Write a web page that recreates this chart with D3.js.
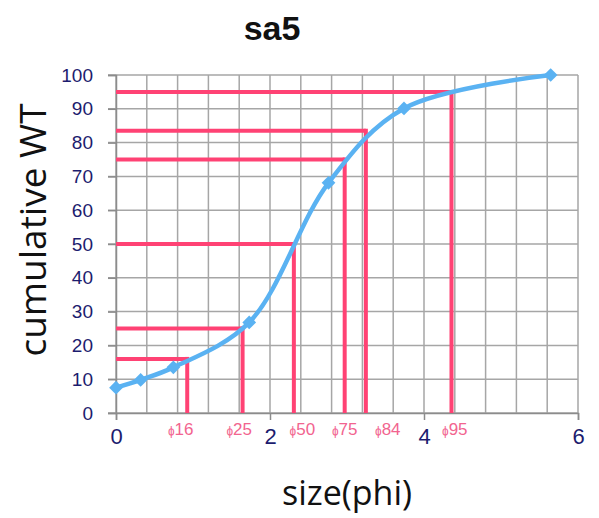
<!DOCTYPE html>
<html><head><meta charset="utf-8">
<script src="https://cdn.jsdelivr.net/npm/d3@7"></script>
<style>body{margin:0;background:#fff}</style>
</head><body>
<svg id="c" width="599" height="518"></svg>
<script>
// data
const sizePhi = [0, 0.32, 0.745, 1.73, 2.76, 3.74, 5.645];
const cumWT   = [7.5, 9.8, 13.5, 26.8, 68.1, 90.1, 100];
const phiNames  = ["16", "25", "50", "75", "84", "95"];
const phiX      = [0.925, 1.644, 2.31, 2.97, 3.245, 4.357];
const phiY      = [16, 25, 50, 75, 83.5, 95];
const phiLabelAt = [0.84, 1.6, 2.42, 2.97, 3.53, 4.4];
const xTicks = [0, 2, 4, 6];
const yTicks = [0, 10, 20, 30, 40, 50, 60, 70, 80, 90, 100];

const svg = d3.select("#c");
const L = 116, R = 578, T = 75, B = 413;
const x = d3.scaleLinear().domain([0, 6]).range([L, R]);
const y = d3.scaleLinear().domain([0, 100]).range([B, T]);

const gridC = "#a6a6a6";
// vertical grid (every 0.4)
const vg = d3.range(0, 6.0001, 0.4);
svg.append("g").selectAll("line").data(vg).join("line")
  .attr("x1", d => x(d)).attr("x2", d => x(d)).attr("y1", T).attr("y2", B)
  .attr("stroke", gridC).attr("stroke-width", 1.5);
// horizontal grid
svg.append("g").selectAll("line").data(yTicks).join("line")
  .attr("x1", L - 8).attr("x2", R).attr("y1", d => y(d)).attr("y2", d => y(d))
  .attr("stroke", gridC).attr("stroke-width", 1.5);

// axes
const xAxis = svg.append("g").attr("transform", `translate(0,${B})`)
  .call(d3.axisBottom(x).tickValues(xTicks).tickSize(7).tickPadding(8).tickFormat(d3.format("d")));
const yAxis = svg.append("g").attr("transform", `translate(${L},0)`)
  .call(d3.axisLeft(y).tickValues(yTicks).tickSize(8).tickPadding(15));
[xAxis, yAxis].forEach(a => {
  a.select(".domain").attr("stroke", "#8c8c8c").attr("stroke-width", 1.5);
  a.selectAll(".tick line").attr("stroke", "#8c8c8c").attr("stroke-width", 1.5);
  a.selectAll(".tick text").attr("fill", "#1c1c6e").attr("font-family", "Liberation Sans, Arial, sans-serif");
});
xAxis.selectAll(".tick text").attr("font-size", 22);
yAxis.selectAll(".tick text").attr("font-size", 19);

// red percentile lines
const red = "#ff4274";
const pg = svg.append("g");
phiX.forEach((px, i) => {
  pg.append("line").attr("x1", x(0)).attr("x2", x(px)).attr("y1", y(phiY[i])).attr("y2", y(phiY[i]))
    .attr("stroke", red).attr("stroke-width", 4);
  pg.append("line").attr("x1", x(px)).attr("x2", x(px)).attr("y1", y(0)).attr("y2", y(phiY[i]) - 2)
    .attr("stroke", red).attr("stroke-width", 4);
});

// curve
const pts = sizePhi.map((d, i) => [d, cumWT[i]]);
const blue = "#5ab2f2";
svg.append("path").datum(pts)
  .attr("d", d3.line().x(d => x(d[0])).y(d => y(d[1])).curve(d3.curveCatmullRom.alpha(0.5)))
  .attr("fill", "none").attr("stroke", blue).attr("stroke-width", 4.5);
svg.append("g").selectAll("path").data(pts).join("path")
  .attr("d", d3.symbol(d3.symbolDiamond2, 120))
  .attr("transform", d => `translate(${x(d[0])},${y(d[1])})`)
  .attr("fill", blue);

// phi labels
const lab = svg.append("g").attr("font-family", "Liberation Sans, Arial, sans-serif").attr("fill", "#f2648f");
phiNames.forEach((n, i) => {
  const t = lab.append("text").attr("x", x(phiLabelAt[i])).attr("y", 435).attr("text-anchor", "middle");
  t.append("tspan").attr("font-size", 12).text("ɸ");
  t.append("tspan").attr("font-size", 17).text(n);
});

// title & axis titles
svg.append("text").attr("x", 272).attr("y", 40).attr("text-anchor", "middle")
  .attr("font-family", "Liberation Sans, Arial, sans-serif").attr("font-weight", "bold").attr("font-size", 34)
  .attr("fill", "#111").text("sa5");
svg.append("text").attr("transform", "translate(46,230) rotate(-90)").attr("text-anchor", "middle")
  .attr("font-family", "Open Sans, sans-serif").attr("font-size", 37).attr("fill", "#111").text("cumulative WT");
svg.append("text").attr("x", 347).attr("y", 505).attr("text-anchor", "middle")
  .attr("font-family", "Open Sans, sans-serif").attr("font-size", 34).attr("fill", "#111").text("size(phi)");
</script>
</body></html>
